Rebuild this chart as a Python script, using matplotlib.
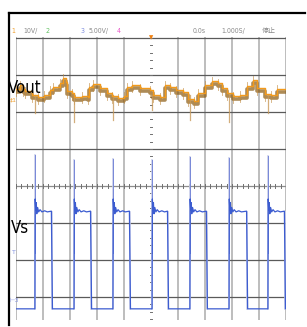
import numpy as np
import matplotlib
matplotlib.use("Agg")
import matplotlib.pyplot as plt
from matplotlib import font_manager as fm
from matplotlib.lines import Line2D

# ---------------- data (screen divisions: x = time div, y = vertical div) -------------
# Channel 1 (Vout ripple) step trace: breakpoints in time-div and levels in div
vout_t = [-5.000, -4.852, -4.741, -4.667, -4.407, -4.185, -3.963, -3.741, -3.630, -3.370,
          -3.259, -3.148, -3.111, -2.926, -2.852, -2.556, -2.333, -2.296, -2.148, -1.889,
          -1.630, -1.444, -1.222, -1.000, -0.889, -0.704, -0.407, -0.037, 0.074, 0.333,
          0.519, 0.704, 0.926, 1.185, 1.370, 1.593, 1.741, 2.000, 2.259, 2.481,
          2.630, 2.815, 3.037, 3.296, 3.556, 3.778, 3.926, 4.222, 4.444, 4.667, 5.000]
vout_v = [2.622, 2.730, 2.622, 2.568, 2.459, 2.405, 2.459, 2.595, 2.676, 2.784,
          2.919, 2.811, 2.568, 2.514, 2.405, 2.432, 2.405, 2.676, 2.757, 2.649,
          2.514, 2.432, 2.378, 2.432, 2.676, 2.730, 2.649, 2.595, 2.459, 2.405,
          2.730, 2.676, 2.595, 2.541, 2.351, 2.297, 2.514, 2.730, 2.838, 2.784,
          2.649, 2.514, 2.432, 2.459, 2.703, 2.865, 2.649, 2.486, 2.459, 2.622, 2.622]
# switching-noise spikes on Vout (time, lowest level)
spike_t = [-4.30, -2.85, -1.41, 0.04, 1.44, 2.89, 4.33]
spike_v = [1.97, 1.73, 1.78, 2.05, 1.78, 1.73, 1.97]

# Channel 3 (Vs) square wave
vs_rise = [-4.30, -2.85, -1.41, 0.04, 1.44, 2.89, 4.33]
vs_fall = [-3.67, -2.22, -0.78, 0.63, 2.07, 3.56, 4.96]
vs_peak = [0.84, 0.70, 0.73, 0.70, 0.78, 0.75, 0.80]
vs_high = -0.70
vs_low = -3.32
# ringing template after each rising edge (time offset, level offset)
ring_dt = [0.0, 0.02, 0.04, 0.06, 0.09, 0.13, 0.18, 0.25, 0.35, 0.45]
ring_dv = [0.35, 0.05, 0.25, -0.05, 0.12, 0.0, 0.06, 0.0, 0.03, 0.0]

# header texts: (x px, text, colour)
header = [(11, "1", "#f0a030"), (23, "10V/", "#8a8a8a"), (46, "2", "#60c060"),
          (81, "3", "#8090e0"), (89, "5.00V/", "#8a8a8a"), (117, "4", "#e858c8"),
          (193, "0.0s", "#8a8a8a"), (221, "1.000S/", "#8a8a8a")]
stop_label = "停止"

# ---------------- figure -------------------------------------------------------------
W, H = 307, 327
fig = plt.figure(figsize=(W / 100, H / 100), dpi=100)
fig.patch.set_facecolor("white")

fonts = fm.fontManager.ttflist
names = {f.name for f in fonts}
label_kw = {"family": "Liberation Sans"}
if "Liberation Sans Narrow" in names:
    label_kw = {"family": "Liberation Sans Narrow"}
elif any(f.name == "DejaVu Sans" and f.stretch == "condensed" for f in fonts):
    label_kw = {"family": "DejaVu Sans", "fontstretch": "condensed"}

def fx(px):
    return px / W

def fy(py):
    return 1 - py / H

top_px, bot_px, left_px, right_px = 37, 320, 16, 286
center_y = 186
div_px_y = 37.0
ax = fig.add_axes([fx(left_px), fy(bot_px), (right_px - left_px) / W, (bot_px - top_px) / H])
ax.set_xlim(-5, 5)
ax.set_ylim(-(bot_px - center_y) / div_px_y, (center_y - top_px) / div_px_y)
ax.axis("off")

# grid
for gx in range(-5, 6):
    if gx != 0:
        ax.axvline(gx, color="#b8b8b8", lw=1.3, zorder=1)
for gy in range(-3, 5):
    if gy != 0:
        ax.axhline(gy, color="#5a5a5a", lw=0.9, zorder=1)
ax.axhline(0, color="#8c8c8c", lw=0.9, zorder=1)
for tx in np.arange(-5, 5.01, 0.2):
    ax.plot([tx, tx], [-0.045, 0.045], color="#707070", lw=0.7, zorder=1)
for ty in np.arange(-3.6, 4.01, 0.2):
    ax.plot([-0.055, 0.055], [ty, ty], color="#707070", lw=0.7, zorder=1)

# Vs trace
pale = "#c8cdea"
mid = "#7888d8"
blue = "#3c5cd0"
for i in range(len(vs_rise)):
    r = vs_rise[i]
    ax.plot([r, r], [vs_low, vs_peak[i]], color=pale, lw=1.2, zorder=2)
    ax.plot([r, r], [-1.8, vs_peak[i]], color=mid, lw=0.7, zorder=3)
for f in vs_fall:
    ax.plot([f, f], [vs_high, vs_low], color=pale, lw=1.2, zorder=2)
xs, ys = [-5.0], [vs_low]
for i in range(len(vs_rise)):
    r, f = vs_rise[i], vs_fall[i]
    xs += [r]
    ys += [vs_low]
    for dt, dv in zip(ring_dt, ring_dv):
        xs.append(r + 0.01 + dt)
        ys.append(vs_high + dv)
    xs += [f - 0.02, f + 0.02]
    ys += [vs_high + 0.02, vs_low]
xs.append(5.0)
ys.append(vs_low + 0.03)
ax.plot(xs, ys, color=blue, lw=0.9, zorder=3)

# Vout trace
ax.step(vout_t, np.array(vout_v) - 0.07, where="post", color="#8a5a10", lw=2.6,
        alpha=0.7, zorder=4)
ax.step(vout_t, vout_v, where="post", color="#f29a1c", lw=1.0, zorder=5)
for t, v in zip(vout_t, vout_v):
    ax.plot([t, t], [v - 0.2, v + 0.1], color="#c08a40", lw=0.6, alpha=0.7, zorder=4)
for t, v in zip(spike_t, spike_v):
    ax.plot([t, t], [2.45, v], color="#c89a5a", lw=0.9, alpha=0.8, zorder=4)

# black frame
fig.add_artist(Line2D([fx(9), fx(305)], [fy(13), fy(13)], color="black", lw=1.6))
fig.add_artist(Line2D([fx(9), fx(9)], [fy(13), fy(325)], color="black", lw=1.6))

# header
for px, txt, col in header:
    fig.text(fx(px), fy(31), txt, fontsize=5, color=col, va="center", ha="left", **label_kw)
fig.text(fx(262), fy(31), stop_label, fontsize=5, color="#8a8a8a",
         family=["Noto Sans CJK SC", "DejaVu Sans"], va="center", ha="left")

# trigger position marker
fig.text(fx(151), fy(38), "▼", fontsize=4, color="#f08010", ha="center", va="center")

# channel labels and markers
fig.text(fx(8), fy(93), "Vout", fontsize=12, color="black", va="baseline", **label_kw)
fig.text(fx(11), fy(233), "Vs", fontsize=12, color="black", va="baseline", **label_kw)
fig.text(fx(10), fy(100), "‡1", fontsize=4.5, color="#f0a030", va="center")
fig.text(fx(12), fy(252), "T", fontsize=4.5, color="#8090e0", va="center")
fig.text(fx(10), fy(300), "⊢3", fontsize=4.5, color="#8090e0", va="center")

fig.savefig("out.png", dpi=100, facecolor="white")
